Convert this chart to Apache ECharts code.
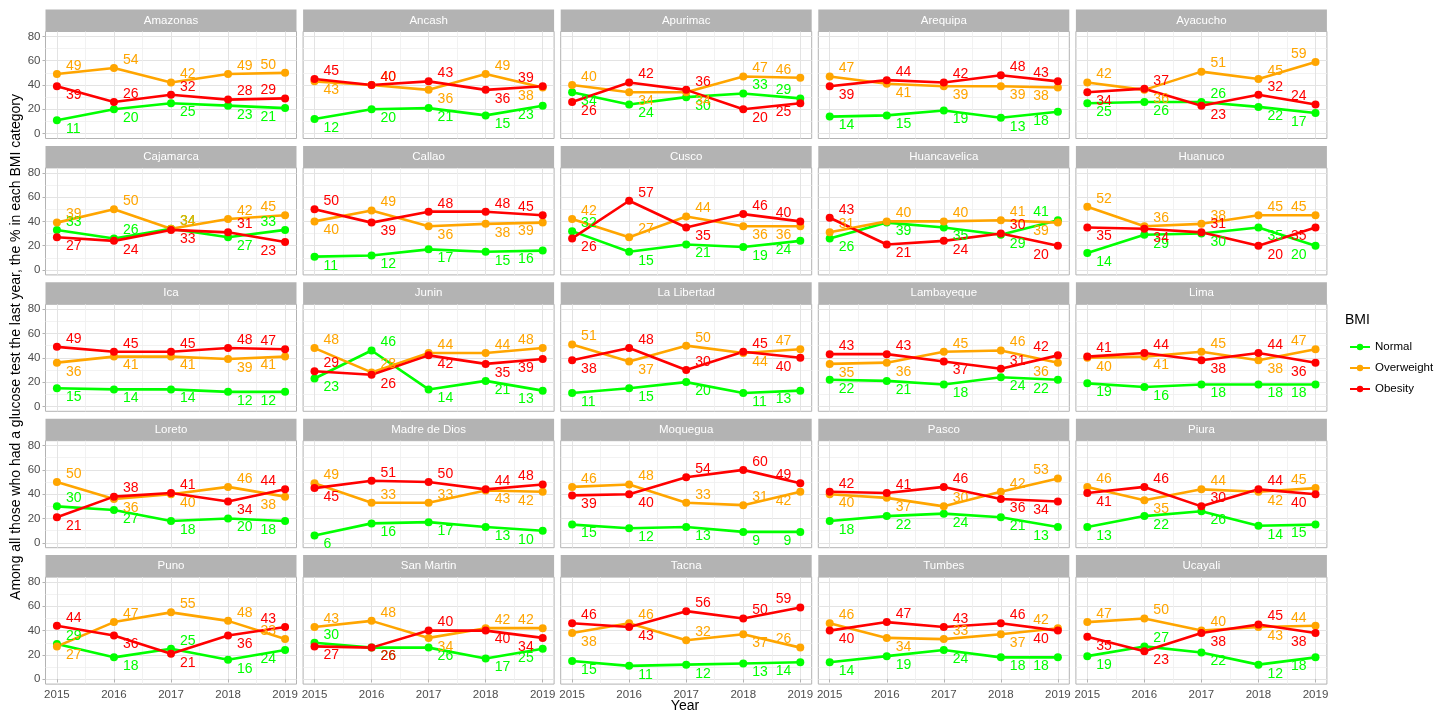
<!DOCTYPE html>
<html>
<head>
<meta charset="utf-8">
<script src="https://cdn.jsdelivr.net/npm/echarts@6/dist/echarts.min.js"></script>
<style>
  html, body { margin: 0; padding: 0; background: #ffffff; }
  #chart { width: 1445px; height: 715px; }
</style>
</head>
<body>
<div id="chart"></div>
<script>
// Share (%) of people tested for glucose in each BMI category, by region and year
const years = [2015, 2016, 2017, 2018, 2019];
const yTicks = [0, 20, 40, 60, 80];
const yMinorTicks = [10, 30, 50, 70];
const xMinorTicks = [2015.5, 2016.5, 2017.5, 2018.5];
const categories = ['Normal', 'Overweight', 'Obesity'];

const regions = [
  'Amazonas', 'Ancash', 'Apurimac', 'Arequipa', 'Ayacucho',
  'Cajamarca', 'Callao', 'Cusco', 'Huancavelica', 'Huanuco',
  'Ica', 'Junin', 'La Libertad', 'Lambayeque', 'Lima',
  'Loreto', 'Madre de Dios', 'Moquegua', 'Pasco', 'Piura',
  'Puno', 'San Martin', 'Tacna', 'Tumbes', 'Ucayali'
];

const normal = [
  [11, 20, 25, 23, 21], [12, 20, 21, 15, 23], [34, 24, 30, 33, 29], [14, 15, 19, 13, 18], [25, 26, 26, 22, 17],
  [33, 26, 34, 27, 33], [11, 12, 17, 15, 16], [32, 15, 21, 19, 24], [26, 39, 35, 29, 41], [14, 29, 30, 35, 20],
  [15, 14, 14, 12, 12], [23, 46, 14, 21, 13], [11, 15, 20, 11, 13], [22, 21, 18, 24, 22], [19, 16, 18, 18, 18],
  [30, 27, 18, 20, 18], [6, 16, 17, 13, 10], [15, 12, 13, 9, 9], [18, 22, 24, 21, 13], [13, 22, 26, 14, 15],
  [29, 18, 25, 16, 24], [30, 26, 26, 17, 25], [15, 11, 12, 13, 14], [14, 19, 24, 18, 18], [19, 27, 22, 12, 18]
];

const overweight = [
  [49, 54, 42, 49, 50], [43, 40, 36, 49, 38], [40, 34, 34, 47, 46], [47, 41, 39, 39, 38], [42, 36, 51, 45, 59],
  [39, 50, 34, 42, 45], [40, 49, 36, 38, 39], [42, 27, 44, 36, 36], [31, 40, 40, 41, 39], [52, 36, 38, 45, 45],
  [36, 41, 41, 39, 41], [48, 28, 44, 44, 48], [51, 37, 50, 44, 47], [35, 36, 45, 46, 36], [40, 41, 45, 38, 47],
  [50, 36, 40, 46, 38], [49, 33, 33, 43, 42], [46, 48, 33, 31, 42], [40, 37, 30, 42, 53], [46, 35, 44, 42, 45],
  [27, 47, 55, 48, 33], [43, 48, 34, 42, 42], [38, 46, 32, 37, 26], [46, 34, 33, 37, 42], [47, 50, 40, 43, 44]
];

const obesity = [
  [39, 26, 32, 28, 29], [45, 40, 43, 36, 39], [26, 42, 36, 20, 25], [39, 44, 42, 48, 43], [34, 37, 23, 32, 24],
  [27, 24, 33, 31, 23], [50, 39, 48, 48, 45], [26, 57, 35, 46, 40], [43, 21, 24, 30, 20], [35, 34, 31, 20, 35],
  [49, 45, 45, 48, 47], [29, 26, 42, 35, 39], [38, 48, 30, 45, 40], [43, 43, 37, 31, 42], [41, 44, 38, 44, 36],
  [21, 38, 41, 34, 44], [45, 51, 50, 44, 48], [39, 40, 54, 60, 49], [42, 41, 46, 36, 34], [41, 46, 30, 44, 40],
  [44, 36, 21, 36, 43], [27, 26, 40, 40, 34], [46, 43, 56, 50, 59], [40, 47, 43, 46, 40], [35, 23, 38, 45, 38]
];

const colors = { Normal: '#00ff00', Overweight: '#ffa500', Obesity: '#ff0000' };

// facet geometry
const NCOL = 5;
const PANEL_LEFT = 45.5, PANEL_TOP = 31.5, PANEL_W = 251, PANEL_H = 107;
const COL_STEP = 257.6, ROW_STEP = 136.4, STRIP_H = 22;
const FONT = "'Liberation Sans Narrow', 'Liberation Sans', Arial, sans-serif";
const GRID_COLOR = '#e3e3e3';
const MINOR_COLOR = '#efefef';
const FRAME_COLOR = '#b3b3b3';

const grids = [], xAxes = [], yAxes = [], series = [], graphics = [];

regions.forEach(function (name, i) {
  const r = Math.floor(i / NCOL), c = i % NCOL;
  const left = PANEL_LEFT + c * COL_STEP;
  const top = PANEL_TOP + r * ROW_STEP;
  const bottomRow = r === Math.floor((regions.length - 1) / NCOL);
  grids.push({ left: left, top: top, width: PANEL_W, height: PANEL_H, show: true,
    borderColor: FRAME_COLOR, borderWidth: 1, backgroundColor: 'transparent' });

  // major x axis
  xAxes.push({
    type: 'value', gridIndex: i, min: 2014.8, max: 2019.2,
    axisLine: { show: false },
    axisTick: { show: bottomRow, customValues: years, length: 3, lineStyle: { color: FRAME_COLOR } },
    axisLabel: { show: bottomRow, customValues: years, color: '#4d4d4d', fontSize: 11.5, fontFamily: FONT, margin: 5,
      formatter: function (v) { return String(v); } },
    splitLine: { show: true, lineStyle: { color: GRID_COLOR, width: 1 } }
  });
  // minor x axis (grid lines only)
  xAxes.push({
    type: 'value', gridIndex: i, min: 2014.8, max: 2019.2,
    axisLine: { show: false }, axisLabel: { show: false },
    axisTick: { show: false, customValues: xMinorTicks },
    splitLine: { show: true, lineStyle: { color: MINOR_COLOR, width: 0.8 } }
  });
  // major y axis
  yAxes.push({
    type: 'value', gridIndex: i, min: -4, max: 84,
    axisLine: { show: false },
    axisTick: { show: c === 0, customValues: yTicks, length: 3, lineStyle: { color: FRAME_COLOR } },
    axisLabel: { show: c === 0, customValues: yTicks, color: '#4d4d4d', fontSize: 11.5, fontFamily: FONT, margin: 5 },
    splitLine: { show: true, lineStyle: { color: GRID_COLOR, width: 1 } }
  });
  // minor y axis (grid lines only)
  yAxes.push({
    type: 'value', gridIndex: i, min: -4, max: 84,
    axisLine: { show: false }, axisLabel: { show: false },
    axisTick: { show: false, customValues: yMinorTicks },
    splitLine: { show: true, lineStyle: { color: MINOR_COLOR, width: 0.8 } }
  });

  // facet strip
  graphics.push({
    type: 'rect', silent: true,
    shape: { x: left, y: top - STRIP_H, width: PANEL_W, height: STRIP_H },
    style: { fill: '#b3b3b3' }
  });
  graphics.push({
    type: 'text', silent: true, x: left + PANEL_W / 2, y: top - STRIP_H / 2,
    style: { text: name, fill: '#ffffff', font: '11.5px ' + FONT, align: 'center', verticalAlign: 'middle' }
  });

  const sets = { Normal: normal[i], Overweight: overweight[i], Obesity: obesity[i] };
  categories.forEach(function (cat) {
    const vals = sets[cat];
    const data = years.map(function (yr, k) {
      const col = [normal[i][k], overweight[i][k], obesity[i][k]];
      const hi = Math.max.apply(null, col), lo = Math.min.apply(null, col);
      const v = vals[k];
      let above;
      if (v === hi) above = true;
      else if (v === lo) above = false;
      else above = (hi - v) >= (v - lo);
      const last = k === years.length - 1;
      return {
        value: [yr, v],
        label: {
          position: last ? 'left' : 'right',
          offset: [last ? 0 : 0, above ? -8 : 9]
        }
      };
    });
    series.push({
      type: 'line', name: cat, xAxisIndex: 2 * i, yAxisIndex: 2 * i,
      data: data, color: colors[cat],
      symbol: 'circle', symbolSize: 8,
      lineStyle: { width: 2.6, color: colors[cat] },
      itemStyle: { color: colors[cat] },
      label: { show: true, color: colors[cat], fontSize: 14, fontFamily: FONT,
        formatter: function (p) { return String(p.value[1]); } },
      emphasis: { disabled: true },
      animation: false, z: 3
    });
  });
});

// axis titles
graphics.push({
  type: 'text', silent: true, x: 685, y: 706,
  style: { text: 'Year', fill: '#000000', font: '14px ' + FONT, align: 'center', verticalAlign: 'middle' }
});
graphics.push({
  type: 'text', silent: true, x: 16, y: 347, rotation: Math.PI / 2,
  style: { text: 'Among all those who had a glucose test the last year, the % in each BMI category',
    fill: '#000000', font: '14px ' + FONT, align: 'center', verticalAlign: 'middle' }
});
// legend title
graphics.push({
  type: 'text', silent: true, x: 1345, y: 320,
  style: { text: 'BMI', fill: '#000000', font: '14px ' + FONT, align: 'left', verticalAlign: 'middle' }
});

const chart = echarts.init(document.getElementById('chart'), null, { renderer: 'canvas' });
chart.setOption({
  animation: false,
  backgroundColor: '#ffffff',
  grid: grids,
  xAxis: xAxes,
  yAxis: yAxes,
  series: series,
  graphic: graphics,
  legend: {
    data: categories, orient: 'vertical', left: 1344, top: 336,
    itemWidth: 20, itemHeight: 8, itemGap: 9,
    textStyle: { fontSize: 11.5, fontFamily: FONT, color: '#000000' },
    selectedMode: false
  }
});
</script>
</body>
</html>
